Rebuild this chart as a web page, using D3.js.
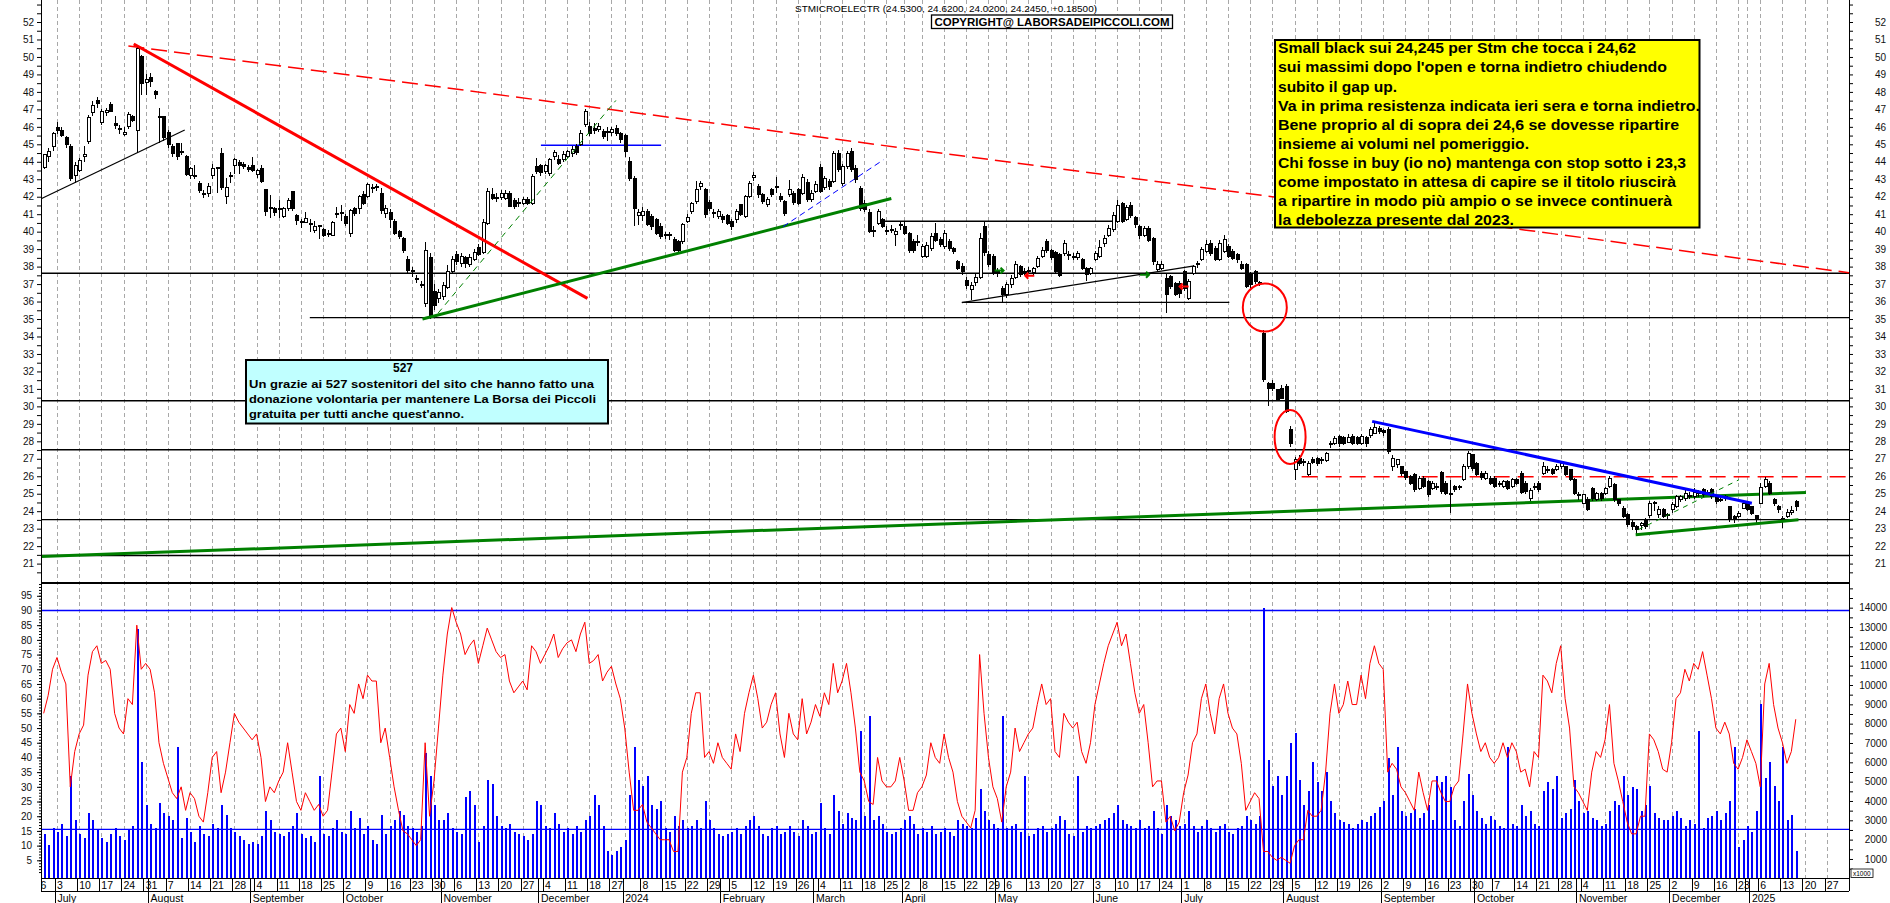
<!DOCTYPE html>
<html><head><meta charset="utf-8">
<script src="https://cdn.jsdelivr.net/npm/d3@7"></script>
<style>body{margin:0;background:#fff}svg{display:block;font-family:"Liberation Sans",Arial,sans-serif}</style>
</head><body><svg id="c" width="1890" height="903"></svg>
<script>
const calendarStart = "2023-06-26", calendarEnd = "2025-01-31", firstCandle = "2023-06-28";
const holidays = ["2023-12-25","2023-12-26","2024-01-01","2024-03-29","2024-04-01","2024-05-01","2024-12-24","2024-12-25","2024-12-26","2024-12-31","2025-01-01"];
const monthNames = ["2024","February","March","April","May","June","July","August","September","October","November","December"];
const titleText = "STMICROELECTR (24.5300, 24.6200, 24.0200, 24.2450, +0.18500)";
const copyrightText = "COPYRIGHT@ LABORSADEIPICCOLI.COM";
const noteLines = ["Small black sui 24,245 per Stm che tocca i 24,62","sui massimi dopo l'open e torna indietro chiudendo","subito il gap up.","Va in prima resistenza indicata ieri sera e torna indietro.","Bene proprio al di sopra dei 24,6 se dovesse ripartire","insieme ai volumi nel pomeriggio.","Chi fosse in buy (io no) mantenga con stop sotto i 23,3","come impostato in attesa di capire se il titolo riuscirà","a ripartire in modo più ampio o se invece continuerà","la debolezza presente dal 2023."];
const donorTitle = "527";
const donorLines = ["Un grazie ai 527 sostenitori del sito che hanno fatto una","donazione volontaria per mantenere La Borsa dei Piccoli","gratuita per tutti anche quest'anno."];

const opens = [
43.7,44.3,44.9,45.95,45.8,45.4,44.9,43.2,43.5,44.3,
45.15,46.8,47.5,46.25,46.8,47.3,46.2,45.9,45.55,46.0,
46.6,45.8,50.05,48.55,48.85,48.0,46.6,46.6,45.7,44.9,
45.05,44.6,44.3,43.2,43.2,42.75,42.2,42.2,43.2,43.7,
44.5,42.0,43.15,43.8,43.95,43.85,43.7,43.8,43.3,43.6,
42.4,41.4,41.3,41.3,40.85,41.3,42.3,40.95,40.6,40.5,
40.45,40.05,40.35,40.1,39.9,39.8,41.05,41.05,40.85,39.9,
41.3,41.3,42.1,42.0,42.5,42.6,42.2,41.05,41.1,40.6,
40.0,39.6,38.4,37.75,37.3,37.0,35.9,38.5,36.6,36.2,
36.3,36.8,37.7,38.7,38.2,38.5,38.1,38.4,39.1,38.8,
40.48,42.1,41.95,41.96,41.91,42.2,41.78,41.6,41.63,41.82,
41.63,43.73,43.76,43.44,43.34,44.3,44.11,44.15,44.3,44.45,
44.87,44.97,46.11,46.02,45.9,45.85,45.73,45.75,45.67,45.92,
45.6,45.5,44.0,43.06,40.9,40.9,41.15,40.86,40.67,40.3,
39.85,39.82,39.53,39.43,39.43,40.6,41.15,41.7,42.6,42.39,
41.66,41.1,40.86,40.86,40.9,40.58,40.67,41.53,40.86,42.0,
43.1,42.58,42.1,41.53,42.39,42.6,42.0,41.72,42.1,42.2,
42.39,42.2,42.8,41.82,42.3,43.69,42.5,42.87,42.87,44.45,
42.77,43.73,44.59,43.63,42.49,41.63,41.1,40.05,40.48,40.67,
40.05,40.1,39.81,40.4,40.3,39.9,39.43,39.45,38.6,38.6,
39.05,39.91,39.53,39.14,39.43,39.05,38.29,38.0,37.2,36.7,
37.1,37.4,40.3,38.7,38.6,37.8,36.76,36.4,37.0,37.4,
38.0,37.7,37.75,37.65,38.0,38.57,39.43,38.9,38.8,38.7,
38.77,38.7,38.6,38.53,38.4,37.9,37.6,38.4,38.6,39.3,
39.8,40.1,40.6,41.6,40.7,41.5,40.8,40.3,39.8,40.2,
39.6,37.81,37.91,37.34,37.43,37.05,37.05,37.72,36.19,37.62,
38.2,38.39,38.86,39.34,39.05,38.39,38.86,39.15,38.86,38.67,
38.1,38.1,37.62,37.72,37.1,34.19,31.3,31.33,30.95,31.04,
31.14,28.66,26.37,27.04,26.85,26.09,26.94,27.04,26.95,26.9,
27.9,27.9,28.28,28.2,27.95,28.28,28.2,27.9,28.2,28.32,
28.47,28.75,28.6,28.7,26.56,26.66,26.56,26.28,25.99,26.09,
25.32,25.9,25.71,25.32,25.42,26.2,25.61,25.04,25.42,25.4,
25.8,26.56,27.23,26.75,26.18,25.9,25.9,25.9,25.6,25.42,
25.7,25.42,25.8,26.18,25.61,24.75,25.42,25.61,26.18,26.4,
26.37,26.37,26.56,26.56,26.37,25.8,24.96,24.46,24.66,25.32,
24.66,25.04,25.04,25.42,25.5,24.66,24.18,23.8,23.36,23.1,
23.17,23.55,23.74,24.5,23.8,24.08,23.8,24.08,24.27,24.66,
24.75,24.9,24.85,25.05,25.23,25.05,25.23,24.85,24.66,24.85,
24.27,23.7,23.7,24.18,24.46,24.27,23.74,24.46,25.42,25.61,
24.66,24.27,23.6,23.7,23.95,24.53];
const highs = [
44.45,44.8,45.7,46.3,46.0,45.5,45.0,44.0,44.2,44.9,
46.7,47.5,47.7,47.0,47.1,47.4,46.6,46.1,46.0,46.85,
46.7,50.6,50.1,49.0,49.1,48.1,47.1,46.6,45.8,45.0,
45.1,45.1,44.4,43.7,43.8,42.9,42.4,42.8,43.9,43.7,
44.8,43.1,43.4,44.2,44.1,44.0,43.8,44.3,43.6,43.8,
42.4,42.1,41.4,41.8,41.4,41.9,42.3,41.0,40.7,41.1,
40.7,40.6,40.4,40.2,40.1,40.6,41.4,41.5,41.0,41.3,
41.4,42.1,42.3,42.8,42.7,42.7,42.5,41.5,41.3,40.7,
40.1,39.7,38.6,37.95,37.5,37.2,39.4,38.8,37.0,36.7,
37.1,38.1,38.6,38.9,38.8,38.6,38.7,39.0,39.3,40.7,
42.5,42.5,42.2,42.4,42.4,42.3,41.9,41.9,42.0,42.0,
43.3,44.2,43.9,43.9,44.2,44.7,44.4,44.6,44.7,44.9,
45.0,45.8,47.0,46.3,46.2,46.2,45.9,46.0,46.0,46.1,
45.7,45.6,44.3,43.2,41.3,41.4,41.3,41.0,40.8,40.5,
40.0,40.0,39.7,39.5,40.5,41.0,41.7,42.9,42.9,42.5,
41.8,41.3,41.3,41.0,41.0,40.7,41.3,41.6,42.1,42.9,
43.4,42.7,42.2,42.0,42.5,43.15,42.2,41.8,42.96,42.3,
42.5,43.3,43.0,42.4,42.9,43.9,43.2,43.0,44.6,44.7,
43.9,44.6,44.8,43.8,42.6,41.8,41.3,40.3,41.3,40.8,
40.3,40.4,40.2,40.6,40.6,40.0,39.6,39.8,39.3,39.4,
39.9,40.5,39.7,40.1,39.6,39.1,38.4,38.2,37.4,37.1,
37.6,39.9,40.6,38.9,38.7,37.9,36.9,37.1,37.5,38.3,
38.1,37.9,38.0,38.0,38.6,39.1,39.6,39.0,38.9,38.8,
39.5,38.9,38.8,38.9,38.5,38.0,38.0,38.9,39.5,39.8,
40.4,41.1,41.8,41.7,41.5,41.7,40.9,40.4,40.3,40.3,
39.7,38.3,38.3,37.6,37.5,37.1,37.2,37.8,37.3,38.1,
38.3,39.1,39.5,39.5,39.2,39.5,39.8,39.3,39.0,38.8,
38.3,38.2,37.7,37.8,37.2,34.38,31.4,31.5,31.0,31.2,
31.3,28.9,27.1,27.2,27.0,26.9,27.1,27.1,27.1,27.4,
28.0,28.3,28.35,28.3,28.4,28.4,28.3,28.4,28.3,28.8,
29.05,28.9,28.7,28.8,27.2,27.0,26.6,26.3,26.1,26.2,
26.0,26.0,25.8,25.7,25.6,26.3,25.7,25.8,25.5,25.5,
26.7,27.45,27.3,26.8,26.3,26.3,26.0,26.0,25.7,25.8,
25.8,25.9,25.9,26.3,25.7,25.3,25.6,25.7,26.8,26.6,
26.5,26.7,26.85,26.6,26.4,25.9,25.1,25.0,24.8,25.4,
25.1,25.1,25.4,26.0,25.6,24.7,24.3,23.9,23.5,23.2,
23.4,23.6,24.6,24.6,24.3,24.2,23.9,24.5,24.9,24.95,
25.2,25.1,25.3,25.2,25.35,25.2,25.3,24.9,24.8,24.9,
24.3,23.8,24.0,24.6,24.6,24.3,23.8,25.6,25.95,25.7,
24.75,24.35,23.7,24.1,24.3,24.62];
const lows = [
43.6,44.0,44.6,45.6,45.4,44.8,42.9,42.8,43.4,44.0,
45.0,46.6,47.1,46.1,46.6,46.9,45.9,45.6,45.5,45.9,
46.3,44.5,47.85,47.8,48.3,47.6,45.05,45.2,44.8,44.3,
44.1,44.4,43.2,43.0,43.0,42.2,41.9,42.0,43.0,42.2,
42.4,41.6,42.8,43.3,43.3,43.6,43.4,43.4,43.1,42.8,
40.9,40.8,40.9,40.8,40.8,41.2,41.2,40.4,40.2,40.5,
40.0,39.9,39.6,39.7,39.7,39.75,40.8,40.6,40.3,39.7,
40.9,41.0,41.5,41.9,42.2,42.3,41.0,40.8,40.2,39.8,
39.6,38.8,37.6,37.4,37.05,36.8,35.7,35.0,35.5,35.9,
36.1,36.7,37.6,38.1,38.0,37.9,38.0,38.3,38.6,38.7,
40.4,41.8,41.7,41.8,41.8,41.4,41.3,41.4,41.5,41.5,
41.5,43.3,43.2,43.3,43.2,44.1,43.8,44.0,44.2,44.3,
44.4,44.9,46.0,45.5,45.6,45.7,45.3,45.2,45.5,45.5,
45.1,44.3,42.9,40.3,40.4,40.6,40.3,40.1,39.8,39.6,
39.6,39.5,38.85,38.8,39.3,40.5,41.0,41.6,42.4,40.8,
41.2,40.8,40.7,40.5,40.4,40.1,40.5,40.9,40.8,41.9,
42.9,41.9,41.6,41.4,42.0,42.2,41.7,40.9,42.0,41.5,
41.5,42.1,41.7,41.7,42.2,42.2,42.4,42.4,42.8,43.4,
42.6,43.6,43.4,42.8,41.2,41.1,39.9,39.7,40.4,40.2,
39.8,39.9,39.2,40.1,39.8,38.8,38.8,39.2,38.5,38.5,
38.9,39.4,39.1,39.0,38.9,38.7,37.8,37.5,36.7,36.1,
36.9,37.3,38.6,38.0,37.5,37.4,35.95,36.2,36.8,37.3,
37.4,37.5,37.6,37.5,37.9,38.5,38.8,38.4,37.6,37.4,
38.6,38.4,38.4,38.4,37.8,37.2,37.5,38.3,38.5,39.1,
39.7,40.0,40.5,40.5,40.6,40.8,40.2,39.6,39.7,39.4,
38.1,37.7,37.8,35.33,36.7,36.3,36.2,36.6,36.1,37.5,
37.9,38.3,38.8,38.6,38.3,38.3,38.8,38.5,38.4,38.2,
37.8,36.8,36.8,37.0,36.9,31.4,30.0,30.9,30.3,30.4,
29.6,27.7,25.8,26.6,26.6,26.0,26.7,26.6,26.7,26.8,
27.6,27.8,27.7,27.8,27.9,27.8,27.8,27.8,27.7,28.2,
28.4,28.4,28.3,27.3,26.3,26.5,26.0,25.8,25.5,25.1,
25.2,25.3,24.8,25.2,25.2,25.0,24.9,23.9,25.1,25.2,
25.7,26.4,26.3,26.0,25.8,25.8,25.5,25.3,25.4,25.3,
25.2,25.3,25.5,25.0,25.0,24.6,25.2,25.1,26.1,26.2,
26.1,26.3,26.4,26.0,25.7,24.9,24.66,24.4,24.0,24.6,
24.6,24.6,24.9,25.3,24.5,24.3,23.6,23.1,22.9,22.65,
22.9,23.0,23.6,24.0,23.6,23.6,23.5,23.9,24.2,24.5,
24.6,24.7,24.7,24.8,24.8,24.9,24.7,24.4,24.5,24.6,
23.4,23.3,23.6,24.1,24.0,23.8,23.2,24.4,25.3,24.9,
24.3,23.9,23.05,23.6,23.8,24.02];
const closes = [
44.4,44.6,45.6,45.8,45.5,45.0,43.05,43.8,44.1,44.4,
46.55,47.2,47.35,46.85,46.95,46.9,46.1,45.85,45.7,46.7,
46.35,50.5,48.5,48.7,48.6,47.85,46.55,45.4,45.0,44.5,
44.3,44.55,43.25,43.6,43.15,42.35,42.15,42.6,43.6,43.65,
42.5,42.5,43.2,44.15,43.8,43.75,43.55,43.5,43.5,42.85,
41.15,41.35,41.1,41.3,41.3,41.8,41.3,40.65,40.55,40.75,
40.4,40.3,40.3,39.8,39.85,40.5,41.05,41.1,40.45,41.2,
41.05,42.0,41.6,42.7,42.45,42.5,41.2,41.3,40.7,39.9,
39.7,38.95,37.8,37.7,37.25,36.95,38.9,35.2,35.8,36.5,
36.9,37.7,38.4,38.3,38.6,38.2,38.5,38.8,38.7,40.5,
42.29,41.91,41.9,42.2,42.2,41.44,41.44,41.66,41.82,41.6,
43.15,43.44,43.38,43.76,44.11,44.55,43.92,44.39,44.59,44.68,
44.53,45.64,46.88,45.64,45.8,46.02,45.44,45.72,45.86,45.6,
45.25,44.6,43.06,41.34,41.1,41.15,40.4,40.29,39.9,39.72,
39.8,39.8,38.95,38.95,40.39,40.8,41.6,42.39,42.75,40.96,
41.34,41.05,41.15,40.67,40.48,40.29,41.15,40.96,42.01,42.77,
43.2,42.1,41.72,41.82,42.1,42.58,41.82,41.05,42.39,41.66,
41.63,43.1,41.82,42.2,42.7,42.29,43.06,42.58,44.45,43.54,
43.73,44.45,43.54,42.96,41.34,41.24,40.0,40.0,41.15,40.29,
40.0,40.15,40.0,40.39,39.9,38.95,38.95,39.43,39.14,39.2,
39.72,39.49,39.24,39.91,39.05,38.86,37.9,37.7,36.9,36.9,
37.4,39.6,38.8,38.1,37.62,37.62,36.38,36.95,37.33,38.1,
37.52,37.7,37.8,37.9,38.48,38.95,38.95,38.5,37.7,37.5,
39.34,38.65,38.6,38.73,37.9,37.53,37.9,38.75,39.1,39.6,
40.2,40.9,41.5,40.6,41.4,40.9,40.4,39.8,40.2,39.5,
38.3,38.1,38.1,36.38,36.86,36.38,36.48,36.77,37.15,38.0,
38.1,38.96,39.24,38.77,38.39,39.34,39.53,38.58,38.48,38.39,
37.91,36.86,36.96,37.15,37.1,31.52,31.0,31.04,30.41,30.47,
29.71,27.9,26.94,26.75,26.8,26.75,26.8,26.75,26.94,27.32,
27.88,28.18,27.86,27.9,28.2,27.9,27.9,28.25,27.85,28.66,
28.8,28.57,28.5,27.42,27.04,26.94,26.18,25.95,25.61,25.27,
25.9,25.42,24.94,25.61,25.4,25.13,25.0,25.02,25.27,25.38,
26.56,27.32,26.47,26.09,25.95,26.18,25.61,25.42,25.58,25.7,
25.32,25.8,25.61,25.08,25.13,25.18,25.4,25.23,26.56,26.35,
26.18,26.56,26.75,26.09,25.8,25.04,24.92,24.94,24.08,24.75,
25.04,24.7,25.32,25.9,24.66,24.46,23.7,23.23,23.13,22.98,
23.32,23.14,24.46,24.45,24.1,23.7,23.78,24.36,24.85,24.85,
25.04,24.88,25.08,25.04,24.94,25.04,24.85,24.56,24.65,24.7,
23.51,23.6,23.89,24.46,24.12,23.89,23.51,25.38,25.8,25.04,
24.46,24.08,23.5,23.95,24.06,24.245];
const volumes = [
2300,1700,2600,2400,2800,2200,5300,3000,2300,2100,
3400,3000,2500,2100,1900,2300,2600,2200,2000,2500,
2700,12900,6000,3800,2800,2600,3900,3400,3200,3000,
6800,2100,3100,2400,1900,2700,2300,2200,2800,2600,
3800,3300,2600,2400,2200,2000,1800,1900,1800,2200,
3500,3000,2400,2300,2200,2400,2700,3400,2300,2100,
2200,1900,5300,2300,2200,2600,3000,2400,2300,3500,
2600,3100,2300,2700,2000,1800,3300,2300,2700,3000,
3500,3300,2700,2600,2400,2700,6500,5300,3800,3000,
3000,3400,2600,2400,2300,4200,4500,3800,1900,2700,
5100,4900,3200,2700,2600,2800,2400,2300,2200,2000,
2300,4000,3800,2700,2600,3400,2800,2400,2600,2300,
2700,2400,3000,3200,4300,3800,2700,1400,1200,1400,
1600,2000,4300,6800,5100,4800,5300,3800,3600,4000,
2600,2400,3200,2700,3000,2600,2700,3000,2600,4000,
3000,2600,2300,2200,2300,2400,2600,2300,2700,3000,
3200,2700,2300,2200,2600,2700,2300,2400,2700,2400,
2200,3000,2700,2300,2400,3900,2600,2300,4300,3500,
2800,3400,3100,3000,7600,3200,8400,3000,3200,2800,
2400,2300,2400,2600,3000,3200,2800,2300,2600,2400,
2700,2300,2400,2600,2400,2200,3000,2800,2700,2600,
3100,4600,3500,3000,2800,2600,8400,2600,2700,2800,
2400,5300,2200,2300,2600,2700,2400,2600,2800,3200,
3000,2300,2200,5300,2400,2700,2600,2700,2800,3000,
3100,3400,3800,3000,2800,2700,2600,3000,2600,2700,
3500,2600,2300,3800,3200,3000,2700,2800,3500,2700,
2400,2700,3000,2600,2400,2700,2800,2400,2300,2600,
2700,3200,3000,2800,3200,14000,6100,4800,5300,4300,
5300,7000,7500,5100,3800,4500,6000,5000,4500,5500,
4000,3400,3000,2900,2800,2600,2800,3000,2900,3200,
3400,3700,4000,6200,4300,6800,3500,3200,3400,3600,
3100,3400,3800,3000,5300,5000,5300,4700,3000,2700,
4000,5400,4300,3500,3100,2800,3200,3000,2700,2600,
6800,2800,2700,3800,3200,3500,2800,2700,4500,5000,
4600,5300,3100,3400,3600,5100,4000,3400,3500,3100,
3000,2700,2800,3500,4000,3800,5300,4300,4700,4600,
3500,3800,4800,3400,3100,3000,3000,3200,3500,3100,
2700,3000,2800,7600,2600,3100,3200,3500,3000,3400,
4000,6800,1600,2000,2700,2400,3500,9000,5200,6000,
4800,4000,6800,3000,3300,1400];
const rsi = [
55,61,70,74,69,65,30,42,48,51,
68,76,78,72,73,70,55,50,48,60,
58,85,70,72,70,62,45,38,33,28,
26,30,22,28,26,20,18,28,40,42,
28,35,45,55,52,50,48,46,48,40,
25,30,28,32,35,45,35,25,22,28,
25,22,24,20,22,35,48,50,42,58,
55,65,60,68,66,66,45,50,40,30,
22,15,14,12,10,12,45,20,32,50,
68,82,91,86,82,75,78,80,72,78,
84,80,76,74,75,66,62,64,66,63,
78,76,72,75,78,82,74,77,79,80,
76,82,86,72,73,75,66,69,71,65,
60,50,35,22,22,24,18,16,14,12,
12,12,8,8,35,40,55,62,62,40,
42,38,45,40,38,36,48,42,55,62,
68,60,50,52,58,62,48,40,55,48,
46,60,48,52,58,54,62,58,72,62,
66,72,62,50,35,32,25,24,40,32,
30,30,32,40,32,22,22,28,30,34,
45,40,38,48,40,35,25,20,18,16,
22,75,55,40,30,26,18,30,35,50,
42,45,48,50,58,65,58,60,42,40,
55,52,50,52,42,38,45,58,65,72,
78,82,86,78,82,72,62,55,58,45,
30,32,32,18,20,15,18,28,34,45,
48,60,65,55,48,60,65,55,50,48,
38,22,25,28,26,8,8,6,5,6,
5,4,10,12,12,22,20,20,22,35,
55,65,55,58,66,58,58,68,60,72,
78,72,70,35,38,36,30,28,25,22,
35,28,22,32,32,28,25,25,30,32,
48,65,55,48,42,45,40,38,40,45,
40,45,42,35,36,30,42,40,68,66,
62,72,78,60,50,30,28,25,22,35,
42,40,46,58,38,32,25,18,14,14,
20,20,48,46,42,36,35,45,60,62,
70,66,72,70,76,68,60,50,48,52,
48,38,36,40,46,42,38,30,65,72,
58,50,45,38,42,53];

// support / resistance levels (price) spanning the whole chart
const levelLines = [37.62, 30.32, 27.52, 23.52, 21.46];
// partial horizontal levels: [fromIndex, toIndex, price]
const partialLevels = [[60, 407, 35.08], [189, 241.5, 40.6], [207, 267.3, 35.95]];
// trend lines in (candle index, price)
const redDashedTrend = [[19.1, 50.63], [407, 37.65]];
const redTrend = [[20.3, 50.74], [122.6, 36.18]];
const blackTrend = [[-0.45, 41.9], [31.8, 45.82]];
const greenTrend = [[85.4, 35.0], [191.1, 41.9]];
const greenThinTrend = [[88.9, 35.33], [129, 47.51]];
const blueLevel = [[112.1, 44.95], [139.2, 44.95]];
const blueThinTrend = [[166.7, 40.29], [189.3, 44.11]];
const blackRiseTrend = [[207, 35.94], [259.4, 38.04]];
const blueTrend = [[299.5, 29.14], [385.1, 24.46]];
const redDashedLevel = [[283.6, 25.97], [407, 25.97]];
const greenLongTrend = [[-0.6, 21.4], [397.3, 25.07]];
const greenNovTrend = [[358.9, 22.65], [395.6, 23.51]];
const greenThinNovTrend = [[359.5, 22.94], [382.2, 25.8]];
const gapCircles = [[275.3, 35.66], [281, 28.25]];
const arrowMarks = [[215.5, 37.77, "green", 1], [222.2, 37.48, "red", -1], [248.3, 37.53, "green", 1], [257, 36.86, "red", -1]];
const rsiLevels = [90, 15.5];

// ------------------------------------------------------------
const svg = d3.select("#c");
const xL = 41, xR = 1849, pBot = 583, lBot = 878;
const x = d3.scaleLinear().domain([-0.6, 407]).range([xL, xR]);
const y = d3.scaleLinear().domain([19.89, 53.26]).range([pBot, 0]);
const yR = d3.scaleLinear().domain([0, 100]).range([875, 581.1]);
const yV = d3.scaleLinear().domain([0, 15000]).range([878.3, 588.35]);

const defs = svg.append("defs");
defs.append("clipPath").attr("id","cp").append("rect").attr("x",xL).attr("y",0).attr("width",xR-xL).attr("height",pBot);
defs.append("clipPath").attr("id","cl").append("rect").attr("x",xL).attr("y",pBot).attr("width",xR-xL).attr("height",lBot-pBot);
defs.append("clipPath").attr("id","cd").append("rect").attr("x",xL).attr("y",lBot).attr("width",xR-xL).attr("height",903-lBot);

function buildCalendar(from, to) {
  const out = []; const d = new Date(from + "T12:00:00Z"); const end = new Date(to + "T12:00:00Z");
  while (d <= end) { const wd = d.getUTCDay(); const s = d.toISOString().slice(0,10);
    if (wd > 0 && wd < 6 && !holidays.includes(s)) out.push(new Date(d)); d.setUTCDate(d.getUTCDate()+1); }
  return out;
}
const cal = buildCalendar(calendarStart, calendarEnd);
const off = cal.findIndex(d => d.toISOString().slice(0,10) === firstCandle);
const weekTicks = [], monthTicks = [];
cal.forEach((d, k) => {
  const idx = k - off;
  if (k === 0 || d.getUTCDay() < cal[k-1].getUTCDay() || (d - cal[k-1]) >= 7*864e5) weekTicks.push({idx, day: d.getUTCDate()});
  if (k > 0 && d.getUTCMonth() !== cal[k-1].getUTCMonth()) monthTicks.push({idx, label: d.getUTCMonth() === 0 ? String(d.getUTCFullYear()) : monthNames[d.getUTCMonth()]});
});

svg.append("g").selectAll("line").data(weekTicks.filter(t => x(t.idx) > xL && x(t.idx) < xR)).join("line")
  .attr("x1", t => Math.round(x(t.idx))+0.5).attr("x2", t => Math.round(x(t.idx))+0.5)
  .attr("y1", 0).attr("y2", lBot).attr("stroke", "#a8a8a8").attr("stroke-dasharray", "4,3").attr("stroke-width", 1);

// ---------------- price panel ----------------
const gp = svg.append("g").attr("clip-path", "url(#cp)");
const line = d3.line().x(d => x(d[0])).y(d => y(d[1]));
gp.selectAll(".lv").data(levelLines).join("line").attr("x1", xL).attr("x2", xR)
  .attr("y1", d => y(d)).attr("y2", d => y(d)).attr("stroke", "#000").attr("stroke-width", 1.4);
gp.selectAll(".pl").data(partialLevels).join("line").attr("x1", d => x(d[0])).attr("x2", d => x(d[1]))
  .attr("y1", d => y(d[2])).attr("y2", d => y(d[2])).attr("stroke", "#000").attr("stroke-width", 1.4);

function trend(pts, color, w, dash) {
  const p = gp.append("path").attr("d", line(pts)).attr("fill", "none").attr("stroke", color).attr("stroke-width", w);
  if (dash) p.attr("stroke-dasharray", dash);
}
trend(redDashedTrend, "#ff0000", 1.5, "16,7");
trend(blackTrend, "#000", 1.2);
trend(greenLongTrend, "#008000", 3);
trend(blueLevel, "#0000ff", 1.6);
trend(blackRiseTrend, "#000", 1.2);
trend(redDashedLevel, "#ff0000", 1.5, "16,8");

const gc = gp.append("g").attr("shape-rendering", "crispEdges");
closes.forEach((c, i) => {
  const o = opens[i], hi = Math.max(highs[i], o, c), lo = Math.min(lows[i], o, c);
  const cx = Math.round(x(i)) + 0.5;
  gc.append("line").attr("x1", cx).attr("x2", cx).attr("y1", y(hi)).attr("y2", y(lo)).attr("stroke", "#000");
  const top = y(Math.max(o, c)), bot = y(Math.min(o, c));
  const up = c > o;
  gc.append("rect").attr("x", cx - 1.5).attr("width", 3).attr("y", top).attr("height", Math.max(1, bot - top))
    .attr("fill", up ? "#fff" : "#000").attr("stroke", "#000").attr("stroke-width", 1);
});

trend(redTrend, "#ff0000", 3);
trend(greenTrend, "#008000", 3);
trend(greenThinTrend, "#008000", 1, "6,5");
trend(blueThinTrend, "#0000ff", 1, "6,4");
trend(blueTrend, "#0000ff", 3);
trend(greenNovTrend, "#008000", 3);
trend(greenThinNovTrend, "#008000", 1, "5,5");
gp.selectAll(".gc").data(gapCircles).join("ellipse").attr("cx", d => x(d[0])).attr("cy", d => y(d[1]))
  .attr("rx", (d, i) => i === 0 ? 22 : 15.5).attr("ry", (d, i) => i === 0 ? 24 : 27)
  .attr("fill", "none").attr("stroke", "#ff0000").attr("stroke-width", 2);
arrowMarks.forEach(a => {
  const ax = x(a[0]), ay = y(a[1]), s = a[3];
  gp.append("path").attr("d", `M${ax - 5*s},${ay}L${ax + 3*s},${ay}M${ax + 1*s},${ay - 3}L${ax + 4*s},${ay}L${ax + 1*s},${ay + 3}`)
    .attr("fill", "none").attr("stroke", a[2]).attr("stroke-width", 2);
});

// ---------------- lower panel ----------------
const gl = svg.append("g").attr("clip-path", "url(#cl)");
gl.append("g").attr("shape-rendering", "crispEdges").selectAll("rect").data(volumes).join("rect")
  .attr("x", (v, i) => Math.round(x(i)) - 0.5).attr("width", 2)
  .attr("y", v => yV(v)).attr("height", v => yV(0) - yV(v)).attr("fill", "#0000ff");
gl.selectAll(".rl").data(rsiLevels).join("line").attr("x1", xL).attr("x2", xR)
  .attr("y1", d => yR(d)).attr("y2", d => yR(d)).attr("stroke", "#0000ff").attr("stroke-width", 1.3);
gl.append("path").attr("d", d3.line().x((v, i) => x(i)).y(v => yR(v))(rsi))
  .attr("fill", "none").attr("stroke", "#ff0000").attr("stroke-width", 1);

// ---------------- frame & axes ----------------
const frame = svg.append("g").attr("stroke", "#000").attr("shape-rendering", "crispEdges");
frame.append("line").attr("x1", xL).attr("x2", xL).attr("y1", 0).attr("y2", 891);
frame.append("line").attr("x1", xR).attr("x2", xR).attr("y1", 0).attr("y2", 891);
frame.append("line").attr("x1", xL).attr("x2", xR).attr("y1", pBot).attr("y2", pBot).attr("stroke-width", 2);
frame.append("line").attr("x1", xL).attr("x2", xR).attr("y1", lBot).attr("y2", lBot);
frame.append("line").attr("x1", xL).attr("x2", xR).attr("y1", 891).attr("y2", 891);

function styleAxis(g) { g.select(".domain").remove(); g.selectAll("text").attr("font-size", 10).attr("fill", "#111")
  .attr("font-family", "Liberation Sans, Arial, sans-serif"); g.selectAll("line").attr("stroke", "#000"); }
const priceTicks = d3.range(20.5, 53.01, 0.5);
svg.append("g").attr("transform", `translate(${xL},0)`).call(d3.axisLeft(y).tickValues(priceTicks).tickSize(4).tickPadding(3)
  .tickFormat(d => (Number.isInteger(d) && d >= 21 && d <= 52) ? d : "")).call(styleAxis);
svg.append("g").attr("transform", `translate(${xR},0)`).call(d3.axisRight(y).tickValues(priceTicks).tickSize(4)
  .tickFormat(d => (Number.isInteger(d) && d >= 21 && d <= 52) ? d : "")).call(styleAxis)
  .call(g => g.selectAll("text").attr("text-anchor", "end").attr("x", 1886 - xR));
svg.append("g").attr("transform", `translate(${xL},0)`).call(d3.axisLeft(yR).tickValues(d3.range(1, 100, 1)).tickSize(2)
  .tickFormat("")).call(styleAxis);
svg.append("g").attr("transform", `translate(${xL},0)`).call(d3.axisLeft(yR).tickValues(d3.range(5, 100, 5)).tickSize(4).tickPadding(5))
  .call(styleAxis);
svg.append("g").attr("transform", `translate(${xR},0)`).call(d3.axisRight(yV).tickValues(d3.range(500, 15001, 500)).tickSize(4)
  .tickFormat(d => (d % 1000 === 0 && d <= 14000) ? d : "")).call(styleAxis)
  .call(g => g.selectAll("text").attr("text-anchor", "end").attr("x", 1887 - xR));
svg.append("rect").attr("x", 1851).attr("y", 869).attr("width", 22).attr("height", 8.5).attr("fill", "#fff").attr("stroke", "#000").attr("stroke-width", 0.8);
svg.append("text").attr("x", 1853).attr("y", 876).attr("font-size", 6.5).text("x1000");

const gd = svg.append("g").attr("clip-path", "url(#cd)");
let lastX = -100;
weekTicks.forEach(t => {
  const tx = x(t.idx);
  gd.append("line").attr("x1", Math.round(tx - 2.2) + 0.5).attr("x2", Math.round(tx - 2.2) + 0.5).attr("y1", lBot).attr("y2", 891)
    .attr("stroke", "#000").attr("shape-rendering", "crispEdges");
  if (tx - lastX >= 15) { gd.append("text").attr("x", tx).attr("y", 888.5).attr("font-size", 10.5).attr("fill", "#000").text(t.day); lastX = tx; }
});
monthTicks.forEach(t => {
  const tx = x(t.idx);
  gd.append("line").attr("x1", Math.round(tx - 2.2) + 0.5).attr("x2", Math.round(tx - 2.2) + 0.5).attr("y1", lBot).attr("y2", 903)
    .attr("stroke", "#000").attr("shape-rendering", "crispEdges");
  gd.append("text").attr("x", tx + 0.5).attr("y", 901.5).attr("font-size", 10.5).attr("fill", "#000").text(t.label);
});

svg.append("text").attr("x", 795).attr("y", 11.5).attr("font-size", 9.5).attr("textLength", 302).attr("lengthAdjust", "spacingAndGlyphs").text(titleText);
svg.append("rect").attr("x", 931.5).attr("y", 15).attr("width", 241).attr("height", 13.5).attr("fill", "#fff").attr("stroke", "#000").attr("stroke-width", 1.3);
svg.append("text").attr("x", 934.5).attr("y", 25.8).attr("font-size", 11).attr("font-weight", "bold").attr("textLength", 235).attr("lengthAdjust", "spacingAndGlyphs").text(copyrightText);

svg.append("rect").attr("x", 1275).attr("y", 40).attr("width", 424.5).attr("height", 187.5).attr("fill", "#ffff00").attr("stroke", "#000").attr("stroke-width", 2);
const noteW = [358, 389, 119, 422, 401, 251, 408, 398, 394, 236];
noteLines.forEach((s, k) => svg.append("text").attr("x", 1278).attr("y", 53.4 + k * 19.08).attr("font-size", 14).attr("font-weight", "bold")
  .attr("textLength", noteW[k]).attr("lengthAdjust", "spacingAndGlyphs").text(s));

svg.append("rect").attr("x", 246).attr("y", 360).attr("width", 362).attr("height", 63.5).attr("fill", "#c0ffff").attr("stroke", "#000").attr("stroke-width", 2);
svg.append("text").attr("x", 403).attr("y", 371.8).attr("text-anchor", "middle").attr("font-size", 12).attr("font-weight", "bold").text(donorTitle);
const donorW = [345, 347, 215];
donorLines.forEach((s, k) => svg.append("text").attr("x", 249).attr("y", 388.4 + k * 15).attr("font-size", 11.5).attr("font-weight", "bold")
  .attr("textLength", donorW[k]).attr("lengthAdjust", "spacingAndGlyphs").text(s));
</script>
</body></html>
